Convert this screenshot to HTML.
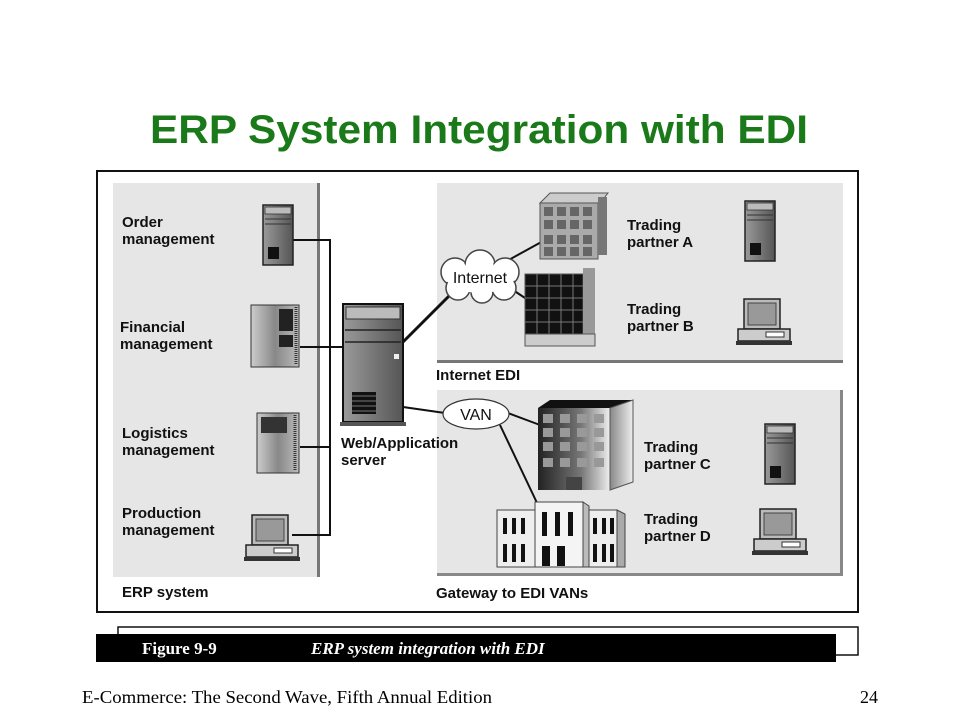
<!DOCTYPE html>
<html><head><meta charset="utf-8"><style>
html,body{margin:0;padding:0;background:#fff;width:960px;height:720px;overflow:hidden}
svg{display:block}
.l{font-family:"Liberation Sans",sans-serif;font-weight:bold;font-size:15px;fill:#111}
</style></head><body>
<svg width="960" height="720" viewBox="0 0 960 720">
<defs>
<linearGradient id="tg" x1="0" x2="1"><stop offset="0" stop-color="#9a9a9a"/><stop offset="1" stop-color="#555"/></linearGradient>
<linearGradient id="bg" x1="0" x2="1"><stop offset="0" stop-color="#222"/><stop offset="0.6" stop-color="#777"/><stop offset="1" stop-color="#eee"/></linearGradient>
<linearGradient id="sg" x1="0" x2="1"><stop offset="0" stop-color="#888"/><stop offset="1" stop-color="#eee"/></linearGradient>
<linearGradient id="fg" x1="0" x2="1"><stop offset="0" stop-color="#ccc"/><stop offset="0.5" stop-color="#888"/><stop offset="1" stop-color="#bbb"/></linearGradient>
<g id="tower">
<rect x="0" y="0" width="30" height="60" fill="url(#tg)" stroke="#222" stroke-width="1.5"/>
<rect x="2" y="2" width="26" height="7" fill="#bbb" stroke="#333" stroke-width="0.8"/>
<line x1="2" y1="14" x2="28" y2="14" stroke="#333"/>
<line x1="2" y1="19" x2="28" y2="19" stroke="#333"/>
<rect x="5" y="42" width="11" height="12" fill="#111"/>
</g>
<g id="pc">
<rect x="6" y="0" width="36" height="30" fill="#bbb" stroke="#222" stroke-width="1.5"/>
<rect x="10" y="4" width="28" height="22" fill="#999" stroke="#444"/>
<rect x="0" y="30" width="52" height="12" fill="#ccc" stroke="#222" stroke-width="1.5"/>
<rect x="28" y="33" width="18" height="5" fill="#fff" stroke="#333"/>
<rect x="-2" y="42" width="56" height="4" fill="#333"/>
</g>
</defs>

<text x="479" y="143" text-anchor="middle" font-family="Liberation Sans,sans-serif" font-weight="bold" font-size="40" fill="#1a7a1a" textLength="658" lengthAdjust="spacingAndGlyphs">ERP System Integration with EDI</text>

<rect x="97" y="171" width="761" height="441" fill="#fff" stroke="#111" stroke-width="2"/>
<rect x="113" y="183" width="206" height="394" fill="#e6e6e6"/>
<rect x="317" y="183" width="3" height="394" fill="#777"/>
<rect x="437" y="183" width="406" height="178" fill="#e6e6e6"/>
<rect x="437" y="360" width="406" height="3" fill="#777"/>
<rect x="437" y="390" width="406" height="185" fill="#e6e6e6"/>
<rect x="840" y="390" width="3" height="185" fill="#888"/>
<rect x="437" y="573" width="406" height="3" fill="#888"/>

<g stroke="#111" stroke-width="2" fill="none">
<polyline points="293,240 330,240 330,535 292,535"/>
<line x1="300" y1="347" x2="343" y2="347"/>
<line x1="300" y1="447" x2="330" y2="447"/>
<line x1="403" y1="342" x2="450" y2="295" stroke-width="3"/>
<line x1="403" y1="407" x2="445" y2="413"/>
<line x1="505" y1="262" x2="545" y2="240"/>
<line x1="513" y1="290" x2="528" y2="300"/>
<line x1="508" y1="413" x2="540" y2="425"/>
<line x1="500" y1="425" x2="538" y2="505"/>
</g>

<text class="l" x="122" y="227">Order</text><text class="l" x="122" y="244">management</text>
<text class="l" x="120" y="332">Financial</text><text class="l" x="120" y="349">management</text>
<text class="l" x="122" y="438">Logistics</text><text class="l" x="122" y="455">management</text>
<text class="l" x="122" y="518">Production</text><text class="l" x="122" y="535">management</text>
<text class="l" x="122" y="597">ERP system</text>

<use href="#tower" x="263" y="205"/>
<g transform="translate(251,305)">
<rect x="0" y="0" width="48" height="62" fill="url(#fg)" stroke="#333"/>
<rect x="28" y="4" width="14" height="22" fill="#222"/><rect x="28" y="30" width="14" height="12" fill="#222"/>
<line x1="45" y1="2" x2="45" y2="60" stroke="#333" stroke-dasharray="1 1" stroke-width="3"/>
</g>
<g transform="translate(257,413)">
<rect x="0" y="0" width="42" height="60" fill="url(#fg)" stroke="#333"/>
<rect x="4" y="4" width="26" height="16" fill="#333"/>
<line x1="38" y1="2" x2="38" y2="58" stroke="#333" stroke-dasharray="1 1" stroke-width="3"/>
</g>
<use href="#pc" x="246" y="515"/>

<g transform="translate(343,304)">
<rect x="0" y="0" width="60" height="118" fill="url(#tg)" stroke="#111" stroke-width="2"/>
<rect x="3" y="3" width="54" height="12" fill="#bbb" stroke="#333"/>
<line x1="2" y1="26" x2="58" y2="26" stroke="#222" stroke-width="1.5"/>
<line x1="2" y1="38" x2="58" y2="38" stroke="#222" stroke-width="1.5"/>
<rect x="51" y="50" width="5" height="5" fill="#eee"/>
<rect x="9" y="88" width="24" height="22" fill="#111"/>
<g stroke="#777" stroke-width="1"><line x1="9" y1="92" x2="33" y2="92"/><line x1="9" y1="97" x2="33" y2="97"/><line x1="9" y1="102" x2="33" y2="102"/><line x1="9" y1="107" x2="33" y2="107"/></g>
<rect x="-3" y="118" width="66" height="4" fill="#555"/>
</g>
<text class="l" x="341" y="448">Web/Application</text>
<text class="l" x="341" y="465">server</text>

<!-- cloud with outline -->
<g fill="#fff" stroke="#444" stroke-width="1.5">
<circle cx="455" cy="272" r="14"/><circle cx="480" cy="265" r="15"/><circle cx="505" cy="272" r="14"/>
<circle cx="458" cy="288" r="12"/><circle cx="482" cy="292" r="11"/><circle cx="504" cy="288" r="12"/>
</g>
<g fill="#fff">
<circle cx="455" cy="272" r="12.5"/><circle cx="480" cy="265" r="13.5"/><circle cx="505" cy="272" r="12.5"/>
<circle cx="458" cy="288" r="10.5"/><circle cx="482" cy="292" r="9.5"/><circle cx="504" cy="288" r="10.5"/>
<ellipse cx="480" cy="279" rx="32" ry="14"/>
</g>
<text x="480" y="283" text-anchor="middle" font-family="Liberation Sans,sans-serif" font-size="16" fill="#111">Internet</text>

<ellipse cx="476" cy="414" rx="33" ry="15" fill="#fff" stroke="#333" stroke-width="1.2"/>
<text x="476" y="420" text-anchor="middle" font-family="Liberation Sans,sans-serif" font-size="16" fill="#111">VAN</text>

<g transform="translate(540,193)">
<polygon points="0,10 10,0 68,0 60,10" fill="#ccc" stroke="#555"/>
<rect x="0" y="10" width="58" height="56" fill="#aaa" stroke="#555"/>
<rect x="58" y="4" width="9" height="58" fill="#777"/>
<g fill="#666">
<rect x="4" y="14" width="9" height="9"/><rect x="17" y="14" width="9" height="9"/><rect x="30" y="14" width="9" height="9"/><rect x="43" y="14" width="9" height="9"/>
<rect x="4" y="27" width="9" height="9"/><rect x="17" y="27" width="9" height="9"/><rect x="30" y="27" width="9" height="9"/><rect x="43" y="27" width="9" height="9"/>
<rect x="4" y="42" width="9" height="9"/><rect x="17" y="42" width="9" height="9"/><rect x="30" y="42" width="9" height="9"/><rect x="43" y="42" width="9" height="9"/>
<rect x="4" y="54" width="9" height="9"/><rect x="17" y="54" width="9" height="9"/><rect x="30" y="54" width="9" height="9"/><rect x="43" y="54" width="9" height="9"/>
</g>
</g>
<g transform="translate(525,268)">
<rect x="0" y="6" width="58" height="72" fill="#111" stroke="#555"/>
<rect x="58" y="0" width="12" height="78" fill="#999"/>
<g stroke="#777" stroke-width="1">
<line x1="12" y1="6" x2="12" y2="66"/><line x1="24" y1="6" x2="24" y2="66"/><line x1="36" y1="6" x2="36" y2="66"/><line x1="48" y1="6" x2="48" y2="66"/>
<line x1="0" y1="18" x2="58" y2="18"/><line x1="0" y1="30" x2="58" y2="30"/><line x1="0" y1="42" x2="58" y2="42"/><line x1="0" y1="54" x2="58" y2="54"/>
</g>
<rect x="0" y="66" width="70" height="12" fill="#ccc" stroke="#555"/>
</g>
<g transform="translate(538,400)">
<polygon points="0,8 12,0 95,0 72,8" fill="#111"/>
<rect x="0" y="8" width="72" height="82" fill="url(#bg)"/>
<polygon points="72,8 95,0 95,82 72,90" fill="url(#sg)" stroke="#555"/>
<g fill="#999">
<rect x="5" y="14" width="10" height="9"/><rect x="22" y="14" width="10" height="9"/><rect x="39" y="14" width="10" height="9"/><rect x="56" y="14" width="10" height="9"/>
<rect x="5" y="28" width="10" height="9"/><rect x="22" y="28" width="10" height="9"/><rect x="39" y="28" width="10" height="9"/><rect x="56" y="28" width="10" height="9"/>
<rect x="5" y="42" width="10" height="9"/><rect x="22" y="42" width="10" height="9"/><rect x="39" y="42" width="10" height="9"/><rect x="56" y="42" width="10" height="9"/>
<rect x="5" y="58" width="10" height="9"/><rect x="22" y="58" width="10" height="9"/><rect x="39" y="58" width="10" height="9"/><rect x="56" y="58" width="10" height="9"/>
</g>
<rect x="28" y="77" width="16" height="13" fill="#444"/>
</g>
<g transform="translate(497,500)" stroke="#444" stroke-width="1">
<rect x="0" y="10" width="120" height="57" fill="#eee"/>
<polygon points="120,10 128,14 128,67 120,67" fill="#aaa"/>
<rect x="38" y="2" width="48" height="65" fill="#f4f4f4"/>
<polygon points="86,2 92,6 92,67 86,67" fill="#bbb"/>
<g fill="#111" stroke="none">
<rect x="6" y="18" width="4" height="16"/><rect x="15" y="18" width="4" height="16"/><rect x="24" y="18" width="4" height="16"/>
<rect x="6" y="44" width="4" height="18"/><rect x="15" y="44" width="4" height="18"/><rect x="24" y="44" width="4" height="18"/>
<rect x="45" y="12" width="5" height="24"/><rect x="58" y="12" width="5" height="24"/><rect x="71" y="12" width="5" height="24"/>
<rect x="45" y="46" width="8" height="20"/><rect x="60" y="46" width="8" height="20"/>
<rect x="96" y="18" width="4" height="16"/><rect x="105" y="18" width="4" height="16"/><rect x="113" y="18" width="4" height="16"/>
<rect x="96" y="44" width="4" height="18"/><rect x="105" y="44" width="4" height="18"/><rect x="113" y="44" width="4" height="18"/>
</g>
</g>

<text class="l" x="627" y="230">Trading</text><text class="l" x="627" y="247">partner A</text>
<text class="l" x="627" y="314">Trading</text><text class="l" x="627" y="331">partner B</text>
<text class="l" x="436" y="380">Internet EDI</text>
<text class="l" x="644" y="452">Trading</text><text class="l" x="644" y="469">partner C</text>
<text class="l" x="644" y="524">Trading</text><text class="l" x="644" y="541">partner D</text>
<text class="l" x="436" y="598">Gateway to EDI VANs</text>

<use href="#tower" x="745" y="201"/>
<use href="#pc" x="738" y="299"/>
<use href="#tower" x="765" y="424"/>
<use href="#pc" x="754" y="509"/>

<rect x="118" y="627" width="740" height="28" fill="#fff" stroke="#111" stroke-width="1.5"/>
<rect x="96" y="634" width="740" height="28" fill="#000"/>
<text x="142" y="654" font-family="Liberation Serif,serif" font-weight="bold" font-size="17" fill="#fff">Figure 9-9</text>
<text x="311" y="654" font-family="Liberation Serif,serif" font-style="italic" font-weight="bold" font-size="17" fill="#fff">ERP system integration with EDI</text>

<text x="82" y="703" font-family="Liberation Serif,serif" font-size="18" fill="#000" textLength="410" lengthAdjust="spacingAndGlyphs">E-Commerce: The Second Wave, Fifth Annual Edition</text>
<text x="860" y="703" font-family="Liberation Serif,serif" font-size="18" fill="#000">24</text>
</svg>
</body></html>
